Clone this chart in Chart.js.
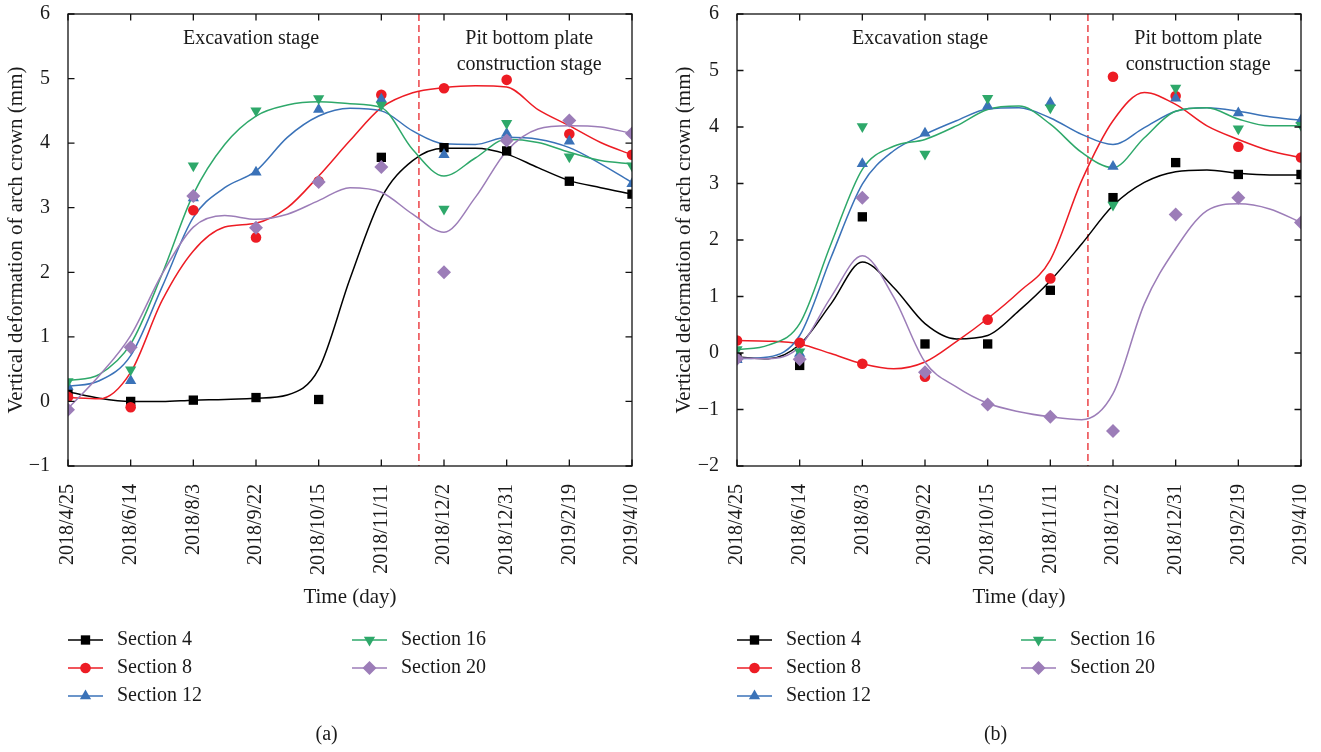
<!DOCTYPE html>
<html>
<head>
<meta charset="utf-8">
<script src="https://cdn.jsdelivr.net/npm/chart.js@4/dist/chart.umd.min.js"></script>
<style>
  body { margin: 0; background: #fff; width: 1321px; height: 752px; overflow: hidden; }
  .panel { position: absolute; top: 0; height: 752px; }
  #panelA { left: 0; width: 660px; }
  #panelB { left: 660px; width: 661px; }
</style>
</head>
<body>
<div class="panel" id="panelA"><canvas id="chartA" width="660" height="752"></canvas></div>
<div class="panel" id="panelB"><canvas id="chartB" width="661" height="752"></canvas></div>
<script>
// x categories (measurement dates)
const dates = ['2018/4/25', '2018/6/14', '2018/8/3', '2018/9/22', '2018/10/15',
               '2018/11/11', '2018/12/2', '2018/12/31', '2019/2/19', '2019/4/10'];
const sections = ['Section 4', 'Section 8', 'Section 12', 'Section 16', 'Section 20'];

const fitSteps = [0, 0.5, 1, 1.5, 2, 2.5, 3, 3.5, 4, 4.5, 5, 5.5, 6, 6.5, 7, 7.5, 8, 8.5, 9];

// stage boundary (date index units)
const stageSplit = 5.6;

// ---- panel (a): measured values (mm)
const a_s4  = [0.12, 0.0, 0.02, 0.06, 0.03, 3.78, 3.93, 3.88, 3.41, 3.21];
const a_s8  = [0.07, -0.09, 2.96, 2.54, 3.41, 4.75, 4.85, 4.98, 4.14, 3.82];
const a_s12 = [0.23, 0.32, 3.15, 3.55, 4.52, 4.68, 3.82, 4.15, 4.03, 3.37];
const a_s16 = [0.31, 0.49, 3.65, 4.50, 4.69, 4.59, 2.98, 4.31, 3.79, 3.65];
const a_s20 = [-0.13, 0.84, 3.18, 2.69, 3.40, 3.63, 2.00, 4.04, 4.35, 4.15];

// ---- panel (a): fitted curves, read at fitSteps
const a_fit4  = [0.15, 0.05, 0.0, 0.0, 0.02, 0.03, 0.05, 0.10, 0.50, 1.90, 3.15, 3.73, 3.92, 3.92, 3.83, 3.62, 3.42, 3.31, 3.21];
const a_fit8  = [0.06, 0.04, 0.45, 1.56, 2.33, 2.70, 2.76, 3.00, 3.49, 4.04, 4.55, 4.78, 4.86, 4.89, 4.87, 4.52, 4.27, 4.01, 3.82];
const a_fit12 = [0.23, 0.32, 0.71, 1.77, 2.85, 3.31, 3.57, 4.09, 4.42, 4.54, 4.50, 4.19, 3.99, 3.98, 4.09, 4.06, 3.93, 3.68, 3.39];
const a_fit16 = [0.32, 0.42, 0.89, 1.97, 3.21, 3.98, 4.42, 4.59, 4.64, 4.61, 4.55, 3.90, 3.49, 3.77, 4.06, 4.01, 3.86, 3.73, 3.68];
const a_fit20 = [-0.11, 0.40, 1.02, 1.97, 2.70, 2.88, 2.82, 2.90, 3.11, 3.31, 3.24, 2.90, 2.62, 3.16, 3.88, 4.22, 4.27, 4.25, 4.15];

// ---- panel (b): measured values (mm)
const b_s4  = [-0.08, -0.22, 2.41, 0.16, 0.16, 1.11, 2.75, 3.37, 3.16, 3.16];
const b_s8  = [0.22, 0.18, -0.19, -0.42, 0.59, 1.32, 4.89, 4.55, 3.65, 3.46];
const b_s12 = [-0.12, -0.01, 3.35, 3.89, 4.37, 4.43, 3.30, 4.51, 4.25, 4.12];
const b_s16 = [0.06, 0.02, 4.01, 3.52, 4.51, 4.34, 2.62, 4.69, 3.97, 4.03];
const b_s20 = [-0.10, -0.11, 2.75, -0.34, -0.91, -1.13, -1.38, 2.45, 2.75, 2.31];

// ---- panel (b): fitted curves, read at fitSteps
const b_fit4  = [-0.07, -0.10, 0.15, 0.87, 1.61, 1.16, 0.52, 0.25, 0.31, 0.75, 1.28, 1.93, 2.61, 3.02, 3.21, 3.24, 3.18, 3.15, 3.15];
const b_fit8  = [0.22, 0.21, 0.16, -0.01, -0.19, -0.28, -0.16, 0.20, 0.61, 1.08, 1.65, 3.05, 4.11, 4.61, 4.40, 4.02, 3.78, 3.58, 3.46];
const b_fit12 = [-0.10, -0.07, 0.31, 1.69, 2.99, 3.58, 3.87, 4.11, 4.32, 4.34, 4.16, 3.87, 3.69, 3.99, 4.28, 4.34, 4.28, 4.18, 4.12];
const b_fit16 = [0.06, 0.14, 0.52, 1.93, 3.25, 3.66, 3.78, 4.02, 4.31, 4.37, 4.05, 3.55, 3.28, 3.81, 4.28, 4.34, 4.14, 4.02, 4.02];
const b_fit20 = [-0.09, -0.10, 0.11, 0.99, 1.72, 0.99, -0.16, -0.60, -0.89, -1.04, -1.13, -1.18, -0.72, 0.87, 1.85, 2.52, 2.64, 2.55, 2.31];

const looks = [
  { color: '#000000', style: 'rect',     radius: 6.6, rotation: 0 },
  { color: '#ed1c24', style: 'circle',   radius: 5.3, rotation: 0 },
  { color: '#3a72b8', style: 'triangle', radius: 6.5, rotation: 0 },
  { color: '#2ea86a', style: 'triangle', radius: 6.5, rotation: 180 },
  { color: '#9c7db8', style: 'rectRot',  radius: 7,   rotation: 0 }
];

const serif = '"Liberation Serif", "DejaVu Serif", serif';
Chart.defaults.font.family = serif;
Chart.defaults.color = '#1a1a1a';

function minus(v) {
  return v < 0 ? '\u2212' + Math.abs(v) : String(v);
}

function marker(ctx, look, x, y) {
  if (Chart.helpers && Chart.helpers.drawPoint) {
    Chart.helpers.drawPoint(ctx, { pointStyle: look.style, radius: look.radius, rotation: look.rotation, borderWidth: 0 }, x, y);
  } else {
    ctx.beginPath(); ctx.arc(x, y, look.radius, 0, Math.PI * 2); ctx.fill();
  }
}

const framePlugin = {
  id: 'frame',
  beforeDatasetsDraw(chart) {
    const { ctx, chartArea: a, scales: { x } } = chart;
    const px = x.getPixelForValue(stageSplit);
    ctx.save();
    ctx.strokeStyle = '#e8262c';
    ctx.lineWidth = 1.3;
    ctx.setLineDash([7, 4]);
    ctx.beginPath();
    ctx.moveTo(px, a.top);
    ctx.lineTo(px, a.bottom);
    ctx.stroke();
    ctx.restore();
  },
  afterDraw(chart, args, opts) {
    const { ctx, chartArea: a, scales: { x, y } } = chart;
    ctx.save();
    ctx.strokeStyle = '#111';
    ctx.lineWidth = 1.3;
    ctx.strokeRect(a.left, a.top, a.right - a.left, a.bottom - a.top);

    // inward tick marks on all four sides
    const tl = 6.5;
    ctx.beginPath();
    x.ticks.forEach(t => {
      const p = x.getPixelForValue(t.value);
      ctx.moveTo(p, a.bottom); ctx.lineTo(p, a.bottom - tl);
      ctx.moveTo(p, a.top); ctx.lineTo(p, a.top + tl);
    });
    y.ticks.forEach(t => {
      const p = y.getPixelForValue(t.value);
      ctx.moveTo(a.left, p); ctx.lineTo(a.left + tl, p);
      ctx.moveTo(a.right, p); ctx.lineTo(a.right - tl, p);
    });
    ctx.stroke();

    // stage labels
    ctx.fillStyle = '#1a1a1a';
    ctx.font = '20px ' + serif;
    ctx.textAlign = 'center';
    ctx.textBaseline = 'middle';
    ctx.fillText('Excavation stage', x.getPixelForValue(2.92), a.top + 25);
    ctx.fillText('Pit bottom plate', x.getPixelForValue(7.36), a.top + 25);
    ctx.fillText('construction stage', x.getPixelForValue(7.36), a.top + 51);

    // legend: two columns
    const rows = [640, 668, 696];
    sections.forEach((name, i) => {
      const look = looks[i];
      const col = i < 3 ? 0 : 1;
      const row = i < 3 ? i : i - 3;
      const x0 = a.left + col * 284;
      const yy = rows[row];
      ctx.strokeStyle = look.color;
      ctx.lineWidth = 1.4;
      ctx.beginPath();
      ctx.moveTo(x0, yy);
      ctx.lineTo(x0 + 35, yy);
      ctx.stroke();
      ctx.fillStyle = look.color;
      marker(ctx, look, x0 + 17.5, yy);
      ctx.fillStyle = '#1a1a1a';
      ctx.textAlign = 'left';
      ctx.fillText(name, x0 + 49, yy);
    });

    ctx.textAlign = 'center';
    ctx.fillText(opts.caption, a.left + 258.6, 735);
    ctx.restore();
  }
};

function makeChart(id, points, fits, yMin, yMax, leftWidth, rightPad, titlePad, caption) {
  const datasets = [];
  points.forEach((vals, i) => {
    const look = looks[i];
    datasets.push({
      label: sections[i],
      data: vals.map((v, k) => ({ x: k, y: v })),
      showLine: false,
      pointStyle: look.style,
      pointRadius: look.radius,
      pointRotation: look.rotation,
      pointBackgroundColor: look.color,
      pointBorderWidth: 0,
      borderColor: look.color,
      order: 5 - i
    });
  });
  fits.forEach((vals, i) => {
    datasets.push({
      label: sections[i] + ' fit',
      data: vals.map((v, k) => ({ x: fitSteps[k], y: v })),
      borderColor: looks[i].color,
      borderWidth: 1.5,
      pointRadius: 0,
      cubicInterpolationMode: 'monotone',
      fill: false,
      order: 20 - i
    });
  });

  return new Chart(document.getElementById(id), {
    type: 'line',
    data: { datasets },
    options: {
      responsive: false,
      animation: false,
      layout: { padding: { top: 14, right: rightPad, bottom: 142, left: 0 } },
      plugins: {
        legend: { display: false },
        tooltip: { enabled: false },
        frame: { caption }
      },
      scales: {
        x: {
          type: 'linear',
          min: 0,
          max: 9,
          grid: { display: false },
          border: { display: false },
          afterFit(s) { s.height = 144; s.paddingLeft = 0; s.paddingRight = 0; },
          ticks: {
            stepSize: 1,
            autoSkip: false,
            minRotation: 90,
            maxRotation: 90,
            padding: 10,
            font: { size: 20 },
            color: '#1a1a1a',
            callback: v => dates[Math.round(v)] ?? ''
          },
          title: {
            display: true,
            text: 'Time (day)',
            font: { size: 21 },
            color: '#1a1a1a',
            padding: { top: 0, bottom: 0 }
          }
        },
        y: {
          min: yMin,
          max: yMax,
          grid: { display: false },
          border: { display: false },
          afterFit(s) { s.width = leftWidth; s.paddingTop = 0; s.paddingBottom = 0; },
          ticks: {
            stepSize: 1,
            padding: 10,
            font: { size: 20 },
            color: '#1a1a1a',
            callback: v => minus(v)
          },
          title: {
            display: true,
            text: 'Vertical deformation of arch crown (mm)',
            font: { size: 21 },
            color: '#1a1a1a',
            padding: { top: titlePad, bottom: 0 }
          }
        }
      }
    },
    plugins: [framePlugin]
  });
}

makeChart('chartA', [a_s4, a_s8, a_s12, a_s16, a_s20], [a_fit4, a_fit8, a_fit12, a_fit16, a_fit20], -1, 6, 68, 28, 4, '(a)');
makeChart('chartB', [b_s4, b_s8, b_s12, b_s16, b_s20], [b_fit4, b_fit8, b_fit12, b_fit16, b_fit20], -2, 6, 77, 20, 12, '(b)');
</script>
</body>
</html>
